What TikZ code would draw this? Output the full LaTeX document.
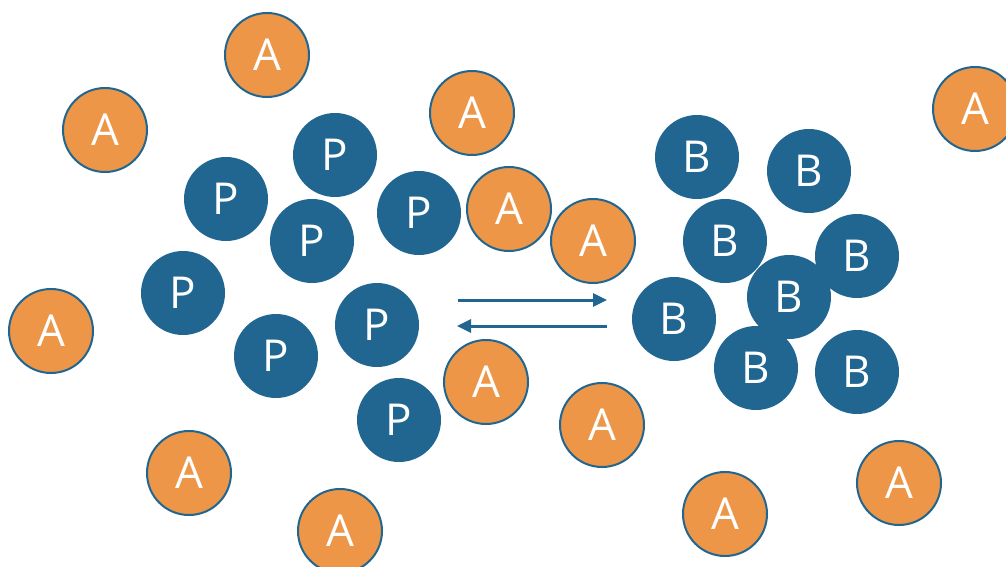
\documentclass[tikz,border=0pt]{standalone}
\usepackage{fontspec}
\setmainfont{Open Sans}
\usepackage{tikz}
\usetikzlibrary{arrows.meta,calc}

\definecolor{molblue}{RGB}{32,102,144}
\definecolor{molorange}{RGB}{237,150,72}

\tikzset{
  aball/.style={circle, minimum size=84pt, inner sep=0pt, fill=molorange,
    draw=molblue, line width=2pt, text=white, font=\fontsize{44}{44}\selectfont},
  pball/.style={circle, minimum size=84pt, inner sep=0pt, fill=molblue,
    text=white, font=\fontsize{44}{44}\selectfont},
  react/.style={draw=molblue, line width=3pt, -{Triangle[length=14pt,width=13pt]}}
}

\begin{document}
\begin{tikzpicture}[x=1pt,y=-1pt]
    \useasboundingbox (0,0) rectangle (1006,567);

    \foreach \i/\pos in {1/{335,155},2/{226,199},3/{419,213},4/{312,241},
                         5/{183,293},6/{377,325},7/{276,356},8/{399,420}} {
      \node [pball] (p\i) at (\pos) {P} ;
    }

    \foreach \i/\pos in {1/{697,157},2/{809,171},3/{725,241},4/{857,256},
                         5/{789,297},6/{674,319},7/{756,368},8/{857,372}} {
      \node [pball] (b\i) at (\pos) {B} ;
    }

    \foreach \i/\pos in {1/{267,55},2/{105,130},3/{472,113},4/{975,109},
                         5/{509,209},6/{593,241},7/{51,331},8/{486,382},
                         9/{602,425},10/{189,473},11/{340,531},12/{725,514},
                         13/{899,483}} {
      \node [aball] (a\i) at (\pos) {A} ;
    }

    \coordinate (fwdstart) at (458,300);
    \coordinate (fwdend)   at (607,300);
    \coordinate (revstart) at (607,326);
    \coordinate (revend)   at (457,326);

    \draw [react] (fwdstart) -- (fwdend);
    \draw [react] (revstart) -- (revend);
  \end{tikzpicture}
\end{document}
